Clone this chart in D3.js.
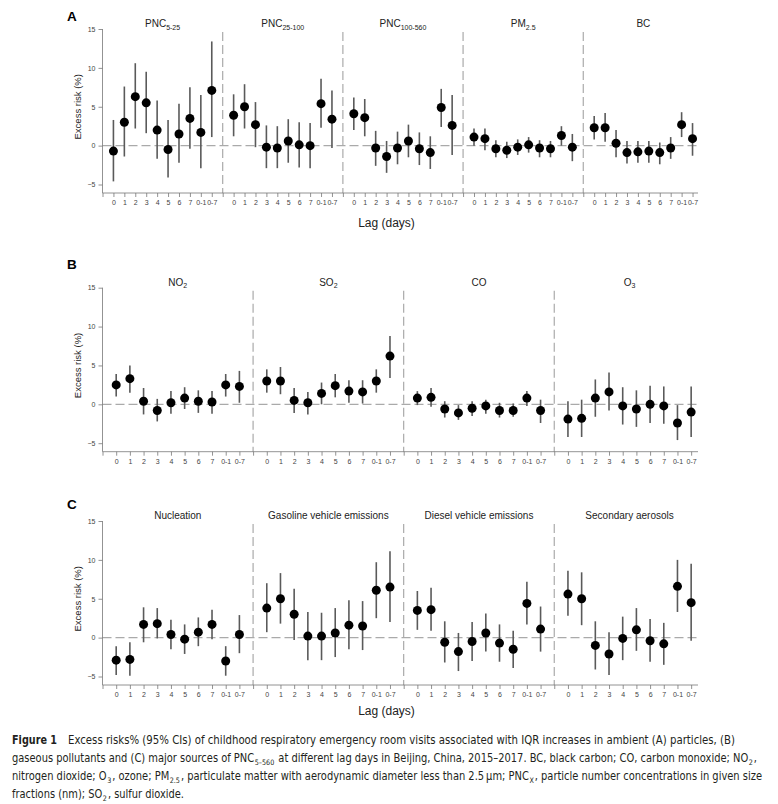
<!DOCTYPE html>
<html lang="en">
<head>
<meta charset="UTF-8" />
<title>Excess risk by lag day</title>
<style>
  html, body {
    margin: 0;
    padding: 0;
    background: #fff;
  }
  svg {
    display: block;
    font-family: "Liberation Sans", Arial, sans-serif;
  }
  .axis line, .axis-line {
    stroke: #777;
    stroke-width: 0.8px;
  }
  .axis text {
    fill: #444;
    font-size: 7px;
  }
  .ref {
    stroke: #aaa;
    stroke-width: 1.2px;
    stroke-dasharray: 9 4;
    fill: none;
  }
  .ci {
    stroke: #5a5a5a;
    stroke-width: 1.6px;
  }
  .pt {
    fill: #000;
  }
  .facet-title {
    font-size: 10px;
    fill: #222;
    text-anchor: middle;
  }
  .caption {
    font-family: "Liberation Sans Narrow", "DejaVu Sans Condensed", "Open Sans", sans-serif;
    font-size: 11.6px;
    fill: #231f20;
  }
</style>
</head>
<body>
<svg id="chart" width="778" height="804"></svg>

<script src="https://d3js.org/d3.v7.min.js"></script>
<script>
const lagLabels = ["0", "1", "2", "3", "4", "5", "6", "7", "0-1", "0-7"];
const yTicks = [-5, 0, 5, 10, 15];

// each row: [estimate, lower 95% CI, upper 95% CI], one per lag
const pnc5_25 = [[-0.7,-4.6,3.3],[3.0,-1.4,7.6],[6.3,2.2,10.6],[5.5,1.6,9.5],[2.0,-1.7,5.8],[-0.5,-4.1,3.3],[1.5,-2.2,5.4],[3.5,-0.4,7.5],[1.7,-2.9,6.5],[7.1,1.1,13.4]];
const pnc25_100 = [[3.9,1.2,6.6],[5.0,2.2,7.9],[2.7,-0.2,5.6],[-0.2,-2.9,2.6],[-0.3,-2.9,2.5],[0.6,-2.2,3.4],[0.1,-2.8,3.0],[0.0,-2.9,2.9],[5.4,2.3,8.6],[3.4,-0.3,7.1]];
const pnc100_560 = [[4.1,2.0,6.2],[3.6,1.2,6.0],[-0.3,-2.6,1.9],[-1.4,-3.5,0.6],[-0.3,-2.4,1.8],[0.6,-1.5,2.7],[-0.4,-2.5,1.7],[-0.9,-3.0,1.2],[4.9,2.4,7.3],[2.6,-1.2,6.5]];
const pm25 = [[1.1,0.0,2.2],[0.9,-0.6,2.2],[-0.4,-1.5,0.7],[-0.6,-1.6,0.5],[-0.2,-1.2,0.8],[0.1,-0.9,1.1],[-0.3,-1.5,0.7],[-0.4,-1.5,0.6],[1.3,0.0,2.5],[-0.2,-2.0,1.5]];
const bc = [[2.3,0.8,3.8],[2.3,0.5,4.2],[0.3,-1.5,2.0],[-0.9,-2.3,0.6],[-0.8,-2.2,0.6],[-0.7,-2.2,0.6],[-0.9,-2.4,0.4],[-0.3,-1.7,1.1],[2.7,1.1,4.3],[0.9,-1.3,2.9]];

const no2 = [[2.5,1.0,3.9],[3.3,1.5,5.0],[0.4,-1.3,2.1],[-0.8,-2.2,0.7],[0.2,-1.2,1.7],[0.8,-0.6,2.2],[0.4,-1.1,1.8],[0.3,-1.2,1.7],[2.5,1.0,3.9],[2.3,0.2,4.3]];
const so2 = [[3.0,1.5,4.5],[3.0,1.3,4.8],[0.5,-1.1,2.1],[0.2,-1.3,1.6],[1.4,0.0,2.8],[2.4,0.9,3.9],[1.7,0.2,3.1],[1.6,0.1,3.1],[3.0,1.5,4.5],[6.2,3.4,8.8]];
const co = [[0.8,-0.1,1.7],[0.9,-0.3,2.1],[-0.6,-1.7,0.4],[-1.1,-2.0,-0.1],[-0.5,-1.5,0.4],[-0.2,-1.2,0.6],[-0.8,-1.7,0.2],[-0.8,-1.6,0.1],[0.8,-0.2,1.7],[-0.8,-2.4,0.6]];
const o3 = [[-1.9,-4.2,0.4],[-1.8,-4.2,0.6],[0.8,-1.6,3.2],[1.6,-0.8,4.1],[-0.2,-2.6,2.2],[-0.6,-2.9,1.8],[0.0,-2.4,2.4],[-0.2,-2.5,2.3],[-2.4,-4.6,-0.1],[-1.0,-4.2,2.3]];

const nucleation = [[-2.9,-4.8,-1.1],[-2.8,-4.9,-0.6],[1.7,-0.6,3.9],[1.8,-0.1,3.8],[0.4,-1.5,2.3],[-0.2,-2.1,1.7],[0.7,-1.1,2.6],[1.7,-0.2,3.6],[-3.0,-4.9,-1.1],[0.4,-2.0,2.9]];
const gasoline = [[3.8,0.7,7.0],[5.0,1.8,8.3],[3.0,-0.3,6.3],[0.2,-2.9,3.3],[0.2,-2.9,3.2],[0.6,-2.5,3.8],[1.6,-1.5,4.8],[1.5,-1.6,4.7],[6.1,2.5,9.7],[6.5,2.0,11.1]];
const diesel = [[3.5,1.0,6.0],[3.6,0.9,6.4],[-0.6,-3.2,2.1],[-1.8,-4.3,0.6],[-0.5,-3.0,2.0],[0.6,-1.8,3.1],[-0.7,-3.1,1.7],[-1.5,-3.9,0.9],[4.4,1.7,7.2],[1.1,-1.8,4.0]];
const secondary = [[5.6,2.8,8.6],[5.0,1.6,8.4],[-1.0,-4.1,2.1],[-2.1,-4.8,0.7],[-0.1,-2.9,2.7],[1.0,-1.7,3.8],[-0.4,-3.1,2.4],[-0.8,-3.5,1.9],[6.6,3.3,10.0],[4.5,-0.4,9.5]];

// facet titles: [main text, subscript]
const facetsA = [
  { title: ["PNC", "5-25"], data: pnc5_25 },
  { title: ["PNC", "25-100"], data: pnc25_100 },
  { title: ["PNC", "100-560"], data: pnc100_560 },
  { title: ["PM", "2.5"], data: pm25 },
  { title: ["BC", ""], data: bc }
];
const facetsB = [
  { title: ["NO", "2"], data: no2 },
  { title: ["SO", "2"], data: so2 },
  { title: ["CO", ""], data: co },
  { title: ["O", "3"], data: o3 }
];
const facetsC = [
  { title: ["Nucleation", ""], data: nucleation },
  { title: ["Gasoline vehicle emissions", ""], data: gasoline },
  { title: ["Diesel vehicle emissions", ""], data: diesel },
  { title: ["Secondary aerosols", ""], data: secondary }
];

const svg = d3.select("#chart");

const rows = [
  { letter: "A", letterY: 21, top: 29, facets: facetsA, lagY: 227 },
  { letter: "B", letterY: 269, top: 287.7, facets: facetsB, lagY: null },
  { letter: "C", letterY: 509, top: 521, facets: facetsC, lagY: 714.5 }
];

rows.forEach(drawRow);

function drawRow(row) {
  const n = row.facets.length;
  const slots = 11 * n;
  const x = d3.scaleLinear().domain([0, slots - 0.5]).range([102.5, 698]);
  const y = d3.scaleLinear().domain([-5, 15]).range([row.top + 155.5, row.top]);
  const bottom = row.top + 164;
  const g = svg.append("g");

  // panel letter
  g.append("text")
    .attr("x", 67).attr("y", row.letterY)
    .attr("font-size", 13.5).attr("font-weight", "bold")
    .text(row.letter);

  // y label
  g.append("text")
    .attr("transform", `translate(81,${y(5)}) rotate(-90)`)
    .attr("text-anchor", "middle")
    .attr("font-size", 9.5)
    .attr("fill", "#222")
    .text("Excess risk (%)");

  // zero reference
  g.append("line").attr("class", "ref")
    .attr("x1", x(0)).attr("x2", x(slots - 0.5))
    .attr("y1", y(0)).attr("y2", y(0));

  // facet dividers
  for (let k = 1; k < n; k++) {
    g.append("line").attr("class", "ref")
      .attr("x1", x(11 * k)).attr("x2", x(11 * k))
      .attr("y1", row.top + 3).attr("y2", bottom);
  }

  // y axis
  const yAxis = g.append("g").attr("class", "axis")
    .attr("transform", `translate(${x(0)},0)`)
    .call(d3.axisLeft(y).tickValues(yTicks).tickSize(4).tickPadding(3));
  yAxis.select(".domain").remove();
  g.append("line").attr("class", "axis-line")
    .attr("x1", x(0)).attr("x2", x(0))
    .attr("y1", y(15)).attr("y2", bottom);

  // x axis
  const xAxis = g.append("g").attr("class", "axis")
    .attr("transform", `translate(0,${bottom})`)
    .call(d3.axisBottom(x)
      .tickValues(d3.range(0, slots))
      .tickSize(4).tickPadding(3.5)
      .tickFormat(i => i % 11 === 0 ? "" : lagLabels[i % 11 - 1]));
  xAxis.select(".domain").remove();
  g.append("line").attr("class", "axis-line")
    .attr("x1", x(0)).attr("x2", x(slots - 0.5))
    .attr("y1", bottom).attr("y2", bottom);

  // facet titles
  row.facets.forEach((f, k) => {
    const t = g.append("text").attr("class", "facet-title")
      .attr("x", x(11 * k + 5.5)).attr("y", row.top - 2);
    t.append("tspan").text(f.title[0]);
    if (f.title[1]) {
      t.append("tspan").attr("font-size", 7).attr("dy", 2.5).text(f.title[1]);
    }
  });

  const pts = row.facets.flatMap((f, k) =>
    f.data.map((d, i) => ({ slot: 11 * k + i + 1, est: d[0], lo: d[1], hi: d[2] })));

  g.selectAll(".ci").data(pts).join("line").attr("class", "ci")
    .attr("x1", d => x(d.slot)).attr("x2", d => x(d.slot))
    .attr("y1", d => y(d.lo)).attr("y2", d => y(d.hi));

  g.selectAll(".pt").data(pts).join("circle").attr("class", "pt")
    .attr("cx", d => x(d.slot)).attr("cy", d => y(d.est))
    .attr("r", 4.5);

  if (row.lagY) {
    g.append("text")
      .attr("x", 386.5).attr("y", row.lagY)
      .attr("text-anchor", "middle")
      .attr("font-size", 12).attr("fill", "#222")
      .text("Lag (days)");
  }
}

// caption
const capLines = [
  { x: 68, y: 744, len: 667, parts: ["Excess risks% (95% CIs) of childhood respiratory emergency room visits associated with IQR increases in ambient (A) particles, (B)"] },
  { x: 12, y: 762, len: 745, parts: ["gaseous pollutants and (C) major sources of PNC", ["5\u2013560"], " at different lag days in Beijing, China, 2015\u20132017. BC, black carbon; CO, carbon monoxide; NO", ["2"], ","] },
  { x: 12, y: 780, len: 750, parts: ["nitrogen dioxide; O", ["3"], ", ozone; PM", ["2.5"], ", particulate matter with aerodynamic diameter less than 2.5\u2009\u00b5m; PNC", ["X"], ", particle number concentrations in given size"] },
  { x: 12, y: 798, len: 172, parts: ["fractions (nm); SO", ["2"], ", sulfur dioxide."] }
];

svg.append("text").attr("class", "caption")
  .attr("x", 12).attr("y", 744)
  .attr("font-weight", "bold")
  .attr("textLength", 45).attr("lengthAdjust", "spacingAndGlyphs")
  .text("Figure 1");

capLines.forEach(line => {
  const t = svg.append("text").attr("class", "caption")
    .attr("x", line.x).attr("y", line.y)
    .attr("textLength", line.len).attr("lengthAdjust", "spacingAndGlyphs");
  let shifted = false;
  line.parts.forEach(p => {
    if (Array.isArray(p)) {
      t.append("tspan").attr("font-size", 7.5).attr("dy", 3).attr("dx", 0.6).text(p[0]);
      shifted = true;
    } else {
      t.append("tspan").attr("dy", shifted ? -3 : 0).attr("dx", shifted ? 1 : 0).text(p);
      shifted = false;
    }
  });
});
</script>
</body>
</html>
